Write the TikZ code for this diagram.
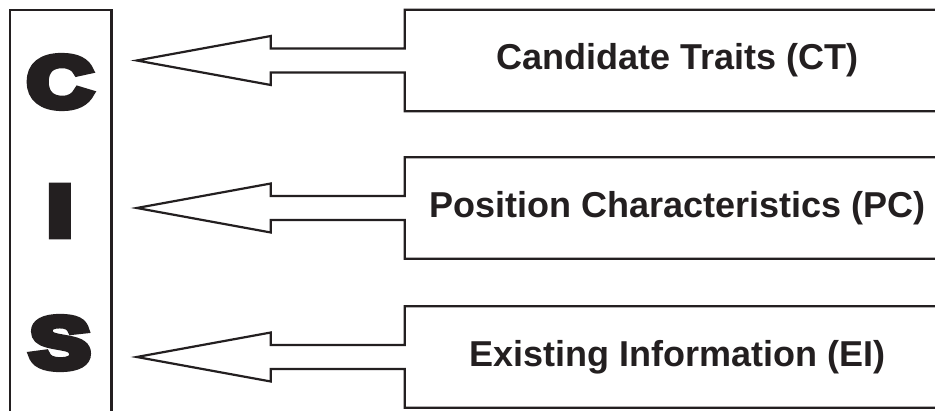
\documentclass[tikz,border=0pt]{standalone}
\usepackage{fontspec}
\setmainfont{Liberation Sans}
\newfontfamily\heavyfont{Liberation Sans Bold}[FakeBold=10]
\usetikzlibrary{calc}
\definecolor{ink}{RGB}{35,31,32}
\tikzset{
  outline/.style={draw=ink, line width=2.2pt, line join=miter},
  label box/.style={minimum width=545pt, minimum height=101pt, inner sep=0pt,
    font=\fontsize{36}{40}\selectfont\bfseries, text=ink, anchor=center},
  big letter/.style={font=\heavyfont\fontsize{72}{72}\selectfont, text=ink,
    inner sep=0pt, xscale=1.25},
}
% feed arrow from a box to the CIS column: shaft half-width 12, head half-width 24.5
\newcommand\feedbox[1]{%
  \draw[outline]
    ($(#1.north west)+(560,0)$) -- (#1.north west)
    -- ($(#1.west)+(0,-12)$) -- ($(#1.west)+(-134,-12)$)
    -- ($(#1.west)+(-134,-24.5)$) -- ($(#1.west)+(-268,0)$)
    -- ($(#1.west)+(-134,24.5)$) -- ($(#1.west)+(-134,12)$)
    -- ($(#1.west)+(0,12)$) -- (#1.south west)
    -- ($(#1.south west)+(560,0)$);}
\begin{document}
\begin{tikzpicture}[x=1pt,y=-1pt]
  \useasboundingbox (0,0) rectangle (935,411);
  \clip (0,0) rectangle (935,411);
  \fill[white] (0,0) rectangle (935,411);

  % CIS column, open at the bottom
  \node[minimum width=101pt, minimum height=430pt, inner sep=0pt, anchor=north west]
    (cis) at (10,10) {};
  \draw[outline] (cis.south west) -- (cis.north west) -- (cis.north east) -- (cis.south east);
  \node[big letter] (c) at (60,82) {C};
  \node[big letter] (i) at (60,211) {I};
  \node[big letter] (s) at (60,343) {S};

  % the three input boxes
  \node[label box] (ct) at (677.5,60.5) {Candidate Traits (CT)};
  \node[label box] (pc) at (677.5,208) {Position Characteristics (PC)};
  \node[label box] (ei) at (677.5,357) {Existing Information (EI)};
  \feedbox{ct}
  \feedbox{pc}
  \feedbox{ei}
\end{tikzpicture}
\end{document}
